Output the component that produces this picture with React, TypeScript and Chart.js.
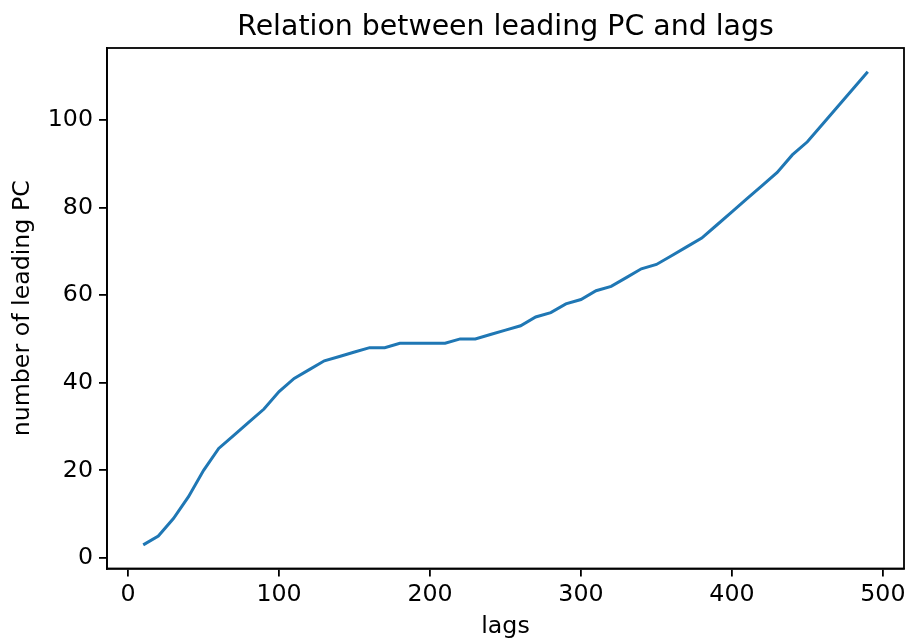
import React, { useEffect, useRef } from "react";
import { Chart, registerables } from "chart.js";

Chart.register(...registerables);

const lags = [10, 20, 30, 40, 50, 60, 70, 80, 90, 100, 110, 120, 130, 140, 150, 160, 170, 180, 190, 200, 210, 220, 230, 240, 250, 260, 270, 280, 290, 300, 310, 320, 330, 340, 350, 360, 370, 380, 390, 400, 410, 420, 430, 440, 450, 460, 470, 480, 490];
const leadingPC = [3, 5, 9, 14, 20, 25, 28, 31, 34, 38, 41, 43, 45, 46, 47, 48, 48, 49, 49, 49, 49, 50, 50, 51, 52, 53, 55, 56, 58, 59, 61, 62, 64, 66, 67, 69, 71, 73, 76, 79, 82, 85, 88, 92, 95, 99, 103, 107, 111];
const xTicks = [0, 100, 200, 300, 400, 500];
const yTicks = [0, 20, 40, 60, 80, 100];

const titleText = "Relation between leading PC and lags";
const xLabel = "lags";
const yLabel = "number of leading PC";

const FONT = "'DejaVu Sans', sans-serif";

const frameAndTitle = {
  id: "frameAndTitle",
  afterDraw(chart: any) {
    const { ctx, chartArea } = chart;
    ctx.save();
    ctx.strokeStyle = "#000";
    ctx.lineWidth = 1.8;
    ctx.strokeRect(chartArea.left, chartArea.top, chartArea.right - chartArea.left, chartArea.bottom - chartArea.top);
    ctx.fillStyle = "#000";
    ctx.font = "28.4px " + FONT;
    ctx.textAlign = "center";
    ctx.textBaseline = "alphabetic";
    ctx.fillText(titleText, (chartArea.left + chartArea.right) / 2, 35);
    ctx.restore();
  },
};

export default function App() {
  const ref = useRef<HTMLCanvasElement>(null);
  useEffect(() => {
    const chart = new Chart(ref.current as HTMLCanvasElement, {
      type: "line",
      data: {
        datasets: [
          {
            data: lags.map((x, i) => ({ x, y: leadingPC[i] })),
            borderColor: "#1f77b4",
            borderWidth: 3,
            pointRadius: 0,
            tension: 0,
            fill: false,
          },
        ],
      },
      options: {
        responsive: false,
        animation: false,
        layout: { padding: { left: 0, right: 6, top: 48, bottom: 0 } },
        plugins: {
          legend: { display: false },
          tooltip: { enabled: false },
          title: { display: false },
        },
        scales: {
          x: {
            type: "linear",
            min: -14,
            max: 514,
            afterBuildTicks: (s: any) => {
              s.ticks = xTicks.map((v) => ({ value: v }));
            },
            afterFit: (s: any) => {
              s.height = 70.5;
            },
            grid: { display: true, drawOnChartArea: false, drawTicks: true, tickLength: 8, tickColor: "#000", lineWidth: 1.8 },
            border: { display: true, color: "#000", width: 1.8 },
            ticks: { color: "#000", font: { family: FONT, size: 23.7 }, padding: 4, maxRotation: 0 },
            title: { display: true, text: xLabel, color: "#000", font: { family: FONT, size: 23.7 }, padding: { top: 0, bottom: -2 } },
          },
          y: {
            type: "linear",
            min: -2.4,
            max: 116.4,
            afterBuildTicks: (s: any) => {
              s.ticks = yTicks.map((v) => ({ value: v }));
            },
            afterFit: (s: any) => {
              s.width = 107;
            },
            grid: { display: true, drawOnChartArea: false, drawTicks: true, tickLength: 8, tickColor: "#000", lineWidth: 1.8 },
            border: { display: true, color: "#000", width: 1.8 },
            ticks: { color: "#000", font: { family: FONT, size: 23.7 }, padding: 6 },
            title: { display: true, text: yLabel, color: "#000", font: { family: FONT, size: 23.7 }, padding: { top: 9, bottom: 0 } },
          },
        },
      },
      plugins: [frameAndTitle],
    });
    return () => chart.destroy();
  }, []);
  return (
    <div style={{ position: "fixed", left: 0, top: 0, width: 910, height: 639, background: "#fff" }}>
      <canvas ref={ref} width={910} height={639} style={{ display: "block" }} />
    </div>
  );
}
